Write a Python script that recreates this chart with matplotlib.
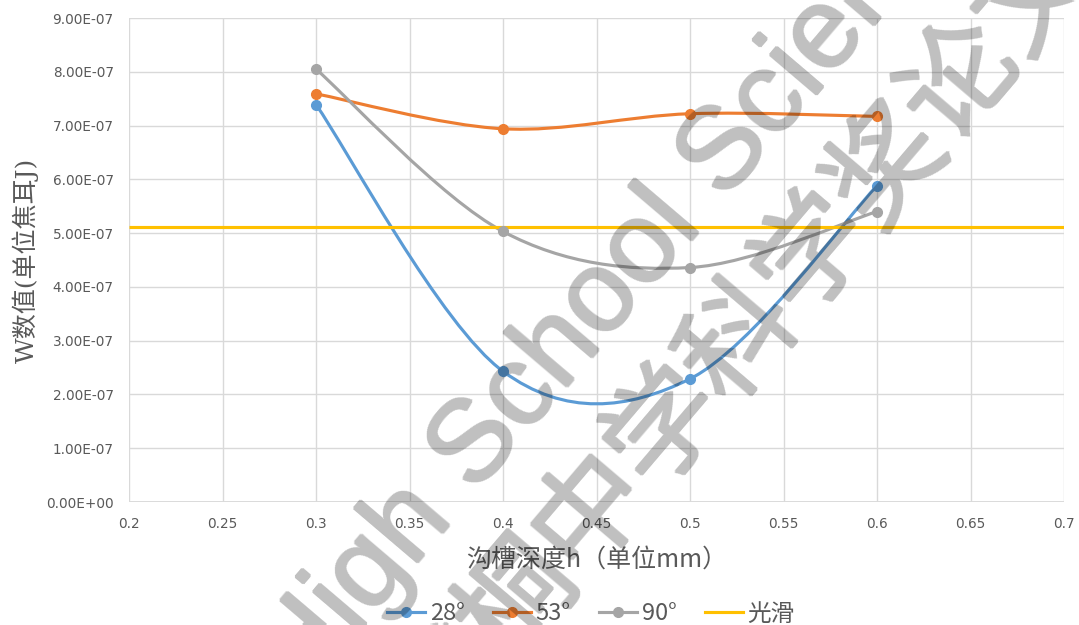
import matplotlib
matplotlib.use("Agg")
import matplotlib.pyplot as plt
import numpy as np
from matplotlib.path import Path
from matplotlib.patches import PathPatch
from matplotlib.lines import Line2D
from matplotlib.ticker import FuncFormatter, MultipleLocator

plt.rcParams['font.family'] = ['Noto Sans CJK SC', 'DejaVu Sans']

# groove depth h (mm)
depths = [0.3, 0.4, 0.5, 0.6]
# W values (J) for each groove angle
w_28 = [7.39e-7, 2.43e-7, 2.29e-7, 5.88e-7]
w_53 = [7.59e-7, 6.94e-7, 7.22e-7, 7.17e-7]
w_90 = [8.05e-7, 5.03e-7, 4.36e-7, 5.40e-7]
# smooth (no groove) reference
smooth_w = 5.12e-7

series_names = ['28°', '53°', '90°', '光滑']
colors = ['#5B9BD5', '#ED7D31', '#A5A5A5', '#FFC000']

TEXT = '#595959'
GRID = '#D9D9D9'

fig = plt.figure(figsize=(10.79, 6.25), dpi=100)
ax = fig.add_axes([129 / 1079, 1 - 502 / 625, 935 / 1079, 484 / 625])

ax.set_xlim(0.2, 0.7)
ax.set_ylim(0, 9e-7)
ax.xaxis.set_major_locator(MultipleLocator(0.05))
ax.yaxis.set_major_locator(MultipleLocator(1e-7))
ax.grid(True, color=GRID, linewidth=1.0)
ax.set_axisbelow(True)
for s in ax.spines.values():
    s.set_visible(False)
ax.axhline(0, color=GRID, linewidth=1.3, zorder=1)
ax.tick_params(length=0, colors=TEXT, labelsize=9.8, pad=11)
ax.yaxis.set_major_formatter(FuncFormatter(lambda v, p: f"{v:.2E}"))
ax.xaxis.set_major_formatter(FuncFormatter(lambda v, p: f"{round(v, 2):g}"))
for lab in ax.get_xticklabels() + ax.get_yticklabels():
    lab.set_fontfamily('DejaVu Sans')


def smooth_path(xs, ys):
    """Cubic Bezier spline through the points (Catmull-Rom style tangents)."""
    pts = np.column_stack([xs, ys])
    n = len(pts)
    verts = [pts[0]]
    codes = [Path.MOVETO]
    for i in range(n - 1):
        p0 = pts[i - 1] if i > 0 else pts[i]
        p1 = pts[i]
        p2 = pts[i + 1]
        p3 = pts[i + 2] if i + 2 < n else pts[i + 1]
        c1 = p1 + (p2 - p0) / 6.0
        c2 = p2 - (p3 - p1) / 6.0
        verts += [c1, c2, p2]
        codes += [Path.CURVE4] * 3
    return Path(verts, codes)


for ys, col in zip([w_28, w_53, w_90], colors[:3]):
    patch = PathPatch(smooth_path(depths, ys), facecolor='none', edgecolor=col,
                      linewidth=2.25, transform=ax.transData, zorder=3,
                      capstyle='round', joinstyle='round')
    ax.add_patch(patch)
    ax.plot(depths, ys, linestyle='none', marker='o', markersize=7,
            color=col, zorder=4)

xmin, xmax = ax.get_xlim()
ax.plot([xmin, xmax], [smooth_w, smooth_w], color=colors[3], linewidth=2.25,
        zorder=3, solid_capstyle='butt')

ax.set_xlabel('沟槽深度h（单位mm）', fontsize=18, color=TEXT, va='center')
ax.xaxis.set_label_coords(0.5, -0.12)
ax.set_ylabel('W数值(单位焦耳J)', fontsize=18, color=TEXT, va='center',
              family=['DejaVu Serif', 'Noto Sans CJK SC'])
ax.yaxis.set_label_coords(-0.111, 0.5)

handles = [
    Line2D([], [], color=colors[0], marker='o', markersize=7, linewidth=2.25),
    Line2D([], [], color=colors[1], marker='o', markersize=7, linewidth=2.25),
    Line2D([], [], color=colors[2], marker='o', markersize=7, linewidth=2.25),
    Line2D([], [], color=colors[3], linewidth=2.25),
]
leg = fig.legend(handles, series_names, loc='center', ncol=4, frameon=False,
                 bbox_to_anchor=(591 / 1079, 1 - 614 / 625), fontsize=17,
                 handlelength=1.6, handletextpad=0.2, columnspacing=1.2,
                 labelcolor=TEXT)


def watermark_filter(img, dpi):
    """Thicken glyph strokes slightly and apply a uniform translucency."""
    pad = 2
    a = np.pad(img[..., 3], pad)
    out = a.copy()
    for dy in (-1, 0, 1):
        for dx in (-1, 0, 1):
            out = np.maximum(out, np.roll(np.roll(a, dy, 0), dx, 1))
    res = np.zeros(out.shape + (4,), dtype=img.dtype)
    res[..., 3] = out * 0.25
    return res, -pad, -pad


# watermark
wm1 = fig.text(623 / 1079, 1 - 275 / 625, 'High School Science', fontsize=83,
               family=['Liberation Sans', 'DejaVu Sans'], color='black',
               rotation=49.6, rotation_mode='anchor', ha='center', va='center',
               zorder=10)
wm2 = fig.text(703 / 1079, 1 - 382 / 625, '丘成桐中学科学奖论文', fontsize=82,
               family=['Noto Sans CJK SC'], color='black',
               rotation=49.6, rotation_mode='anchor', ha='center', va='center',
               zorder=10)
for wm in (wm1, wm2):
    wm.set_agg_filter(watermark_filter)

fig.savefig('out.png', dpi=100)
